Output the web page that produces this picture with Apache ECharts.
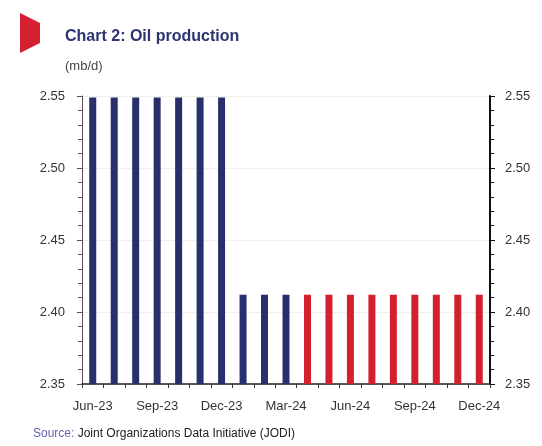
<!DOCTYPE html>
<html>
<head>
<meta charset="utf-8">
<script src="https://cdn.jsdelivr.net/npm/echarts@6/dist/echarts.min.js"></script>
<style>
  html, body { margin: 0; padding: 0; background: #fff; }
  #chart { width: 542px; height: 446px; }
</style>
</head>
<body>
<div id="chart"></div>
<script>
// months on the x axis
var months = ['Jun-23', 'Jul-23', 'Aug-23', 'Sep-23', 'Oct-23', 'Nov-23', 'Dec-23',
  'Jan-24', 'Feb-24', 'Mar-24', 'Apr-24', 'May-24', 'Jun-24', 'Jul-24', 'Aug-24',
  'Sep-24', 'Oct-24', 'Nov-24', 'Dec-24'];
// actual production (blue) and forecast (red), mb/d
var actual = [2.549, 2.549, 2.549, 2.549, 2.549, 2.549, 2.549, 2.412, 2.412, 2.412,
  '-', '-', '-', '-', '-', '-', '-', '-', '-'];
var forecast = ['-', '-', '-', '-', '-', '-', '-', '-', '-', '-',
  2.412, 2.412, 2.412, 2.412, 2.412, 2.412, 2.412, 2.412, 2.412];
var yMin = 2.35, yMax = 2.55, yStep = 0.05;

var chart = echarts.init(document.getElementById('chart'));
var font = 'Liberation Sans, Arial, sans-serif';

var yLabel = {
  color: '#333',
  fontSize: 13,
  fontFamily: font,
  formatter: function (v) { return v.toFixed(2); }
};

chart.setOption({
  animation: false,
  textStyle: { fontFamily: font },
  graphic: [
    {
      type: 'polygon',
      shape: { points: [[20, 13], [40, 23], [40, 43], [20, 53]] },
      style: { fill: '#d42030' }
    },
    {
      type: 'text', left: 65, top: 29,
      style: { text: 'Chart 2: Oil production', fill: '#2d3470', font: 'bold 16px ' + font }
    },
    {
      type: 'text', left: 65, top: 60,
      style: { text: '(mb/d)', fill: '#444', font: '13px ' + font }
    },
    {
      type: 'text', left: 33, top: 428,
      style: {
        text: '{a|Source:} Joint Organizations Data Initiative (JODI)',
        font: '12px ' + font,
        fill: '#222',
        rich: { a: { fill: '#6064b0', font: '12px ' + font } }
      }
    }
  ],
  grid: { left: 82, right: 52, top: 96, bottom: 62 },
  xAxis: {
    type: 'category',
    data: months,
    boundaryGap: true,
    axisLine: { lineStyle: { color: '#222', width: 1.5 } },
    axisTick: { show: true, interval: 0, length: 4, lineStyle: { color: '#333' } },
    axisLabel: { interval: 2, color: '#333', fontSize: 13, fontFamily: font, margin: 16 }
  },
  yAxis: [
    {
      type: 'value', position: 'left',
      min: yMin, max: yMax, interval: yStep,
      axisLine: { show: true, lineStyle: { color: '#555', width: 1 } },
      axisTick: { show: true, length: 5, lineStyle: { color: '#555' } },
      minorTick: { show: true, splitNumber: 5, length: 4, lineStyle: { color: '#555' } },
      splitLine: { show: true, lineStyle: { color: '#f0efe8', width: 1 } },
      axisLabel: Object.assign({ margin: 17 }, yLabel)
    },
    {
      type: 'value', position: 'right',
      min: yMin, max: yMax, interval: yStep,
      axisLine: { show: true, lineStyle: { color: '#111', width: 2 } },
      axisTick: { show: true, length: 5, lineStyle: { color: '#111' } },
      minorTick: { show: true, splitNumber: 5, length: 4, lineStyle: { color: '#111' } },
      splitLine: { show: false },
      axisLabel: Object.assign({ margin: 15 }, yLabel)
    }
  ],
  series: [
    {
      name: 'Actual', type: 'bar', data: actual,
      barWidth: 7, barGap: '-100%',
      itemStyle: { color: '#27306d' }
    },
    {
      name: 'Forecast', type: 'bar', data: forecast,
      barWidth: 7,
      itemStyle: { color: '#d4202e' }
    }
  ]
});
</script>
</body>
</html>
